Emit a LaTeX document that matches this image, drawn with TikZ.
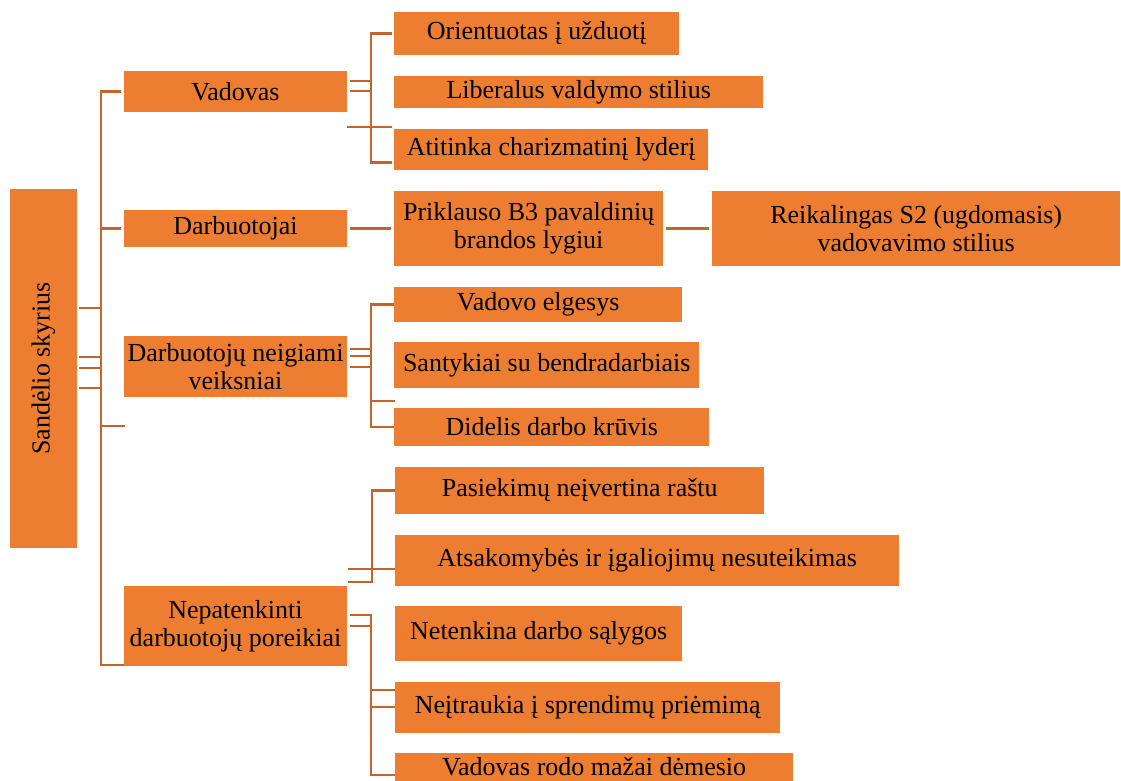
\documentclass[tikz,border=0pt]{standalone}
\usepackage{fontspec}
\usepackage{graphicx}
\setmainfont{Liberation Serif}
\usetikzlibrary{positioning}
\definecolor{boxorange}{RGB}{237,125,49}
\definecolor{linkbrown}{RGB}{196,100,42}
\newcommand\boxfont{\fontsize{26}{28}\selectfont}

\begin{document}
\begin{tikzpicture}[x=1pt,y=-1pt,inner sep=0pt,
  box/.style={fill=boxorange,align=center,font=\boxfont},
  sub/.style={box,anchor=west},
  link/.style={draw=linkbrown,line width=2.8pt}]
\useasboundingbox (0,0) rectangle (1121,780);
\clip (0,0) rectangle (1121,780);

\node[box,minimum width=67,minimum height=359] (main) at (43.5,368.5) {\rotatebox{90}{Sandėlio skyrius}};
\node[box,minimum width=223,minimum height=41] (vad) at (235.5,91.5) {Vadovas};
\node[box,minimum width=223,minimum height=37] (darb) at (235.5,228.5) {Darbuotojai};
\node[box,minimum width=223,minimum height=61] (dnv) at (235.5,366.5) {Darbuotojų neigiami\\veiksniai};
\node[box,minimum width=223,minimum height=80] (nep) at (235.5,626) {Nepatenkinti\\darbuotojų poreikiai};

\node[sub,minimum width=285,minimum height=43] (ori) at (394,33.5) {Orientuotas į užduotį};
\node[sub,minimum width=369,minimum height=32] (lib) at (394,92) {Liberalus valdymo stilius};
\node[sub,minimum width=314,minimum height=41] (ati) at (394,149.5) {Atitinka charizmatinį lyderį};
\node[sub,minimum width=269,minimum height=75] (pri) at (394,228.5) {Priklauso B3 pavaldinių\\brandos lygiui};
\node[sub,minimum width=408,minimum height=75] (rei) at (712,228.5) {Reikalingas S2 (ugdomasis)\\vadovavimo stilius};
\node[sub,minimum width=288,minimum height=35] (vel) at (394,304.5) {Vadovo elgesys};
\node[sub,minimum width=305,minimum height=46] (san) at (394,365) {Santykiai su bendradarbiais};
\node[sub,minimum width=315,minimum height=38] (did) at (394,427) {Didelis darbo krūvis};
\node[sub,minimum width=369,minimum height=47] (pas) at (395,490.5) {Pasiekimų neįvertina raštu};
\node[sub,minimum width=504,minimum height=51] (ats) at (395,560.5) {Atsakomybės ir įgaliojimų nesuteikimas};
\node[sub,minimum width=287,minimum height=55] (net) at (395,633.5) {Netenkina darbo sąlygos};
\node[sub,minimum width=385,minimum height=51] (nei) at (395,707.5) {Neįtraukia į sprendimų priėmimą};
\node[sub,minimum width=398,minimum height=28] (vro) at (395,767) {Vadovas rodo mažai dėmesio};

\coordinate (trunk) at (101,665);
\coordinate (loose) at (125,426);
\coordinate (vloose) at (392,127);
\coordinate (dloose) at (395,401);
\coordinate (nfree) at (348,582);

\draw[link] ([xshift=-3]vad.west) -| (trunk) -- (trunk -| nep.west);
\draw[link] ([xshift=-3]darb.west) -- (darb.west -| trunk);
\draw[link] (loose) -- (loose -| trunk);
\foreach \y in {308,357,368,388}
  \draw[link,shorten <=2pt] (main.east |- 0,\y) -- (trunk |- 0,\y);

\draw[link] ([xshift=-2]ori.west) -- ++(-21,0) |- ([xshift=-2,yshift=8]ati.south west);
\foreach \y in {81,91}
  \draw[link,shorten <=3pt] (vad.east |- 0,\y) -- (371,\y);
\draw[link] (vloose) -- (vloose -| vad.east);

\path[link,shorten <=3pt,shorten >=3pt] (darb) edge (pri) (pri) edge (rei);

\draw[link] (vel.west) -- ++(-23,0) |- (did.west);
\foreach \y in {349,356,367}
  \draw[link,shorten <=3pt] (dnv.east |- 0,\y) -- (371,\y);
\draw[link] (dloose) -- (dloose -| vel.west) -- ++(-24,0);

\draw[link] (pas.west) -- ++(-23,0) |- (nfree);
\draw[link,shorten >=1pt] (ats.west |- 0,569) -- (nep.east |- 0,569);
\draw[link,shorten <=3pt] (nep.east |- 0,615) -| (371,775) -- (vro.west |- 0,775);
\draw[link,shorten <=3pt] (nep.east |- 0,626) -- (371,626);
\foreach \y in {690,707}
  \draw[link] (371,\y) -- (nei.west |- 0,\y);
\end{tikzpicture}
\end{document}
